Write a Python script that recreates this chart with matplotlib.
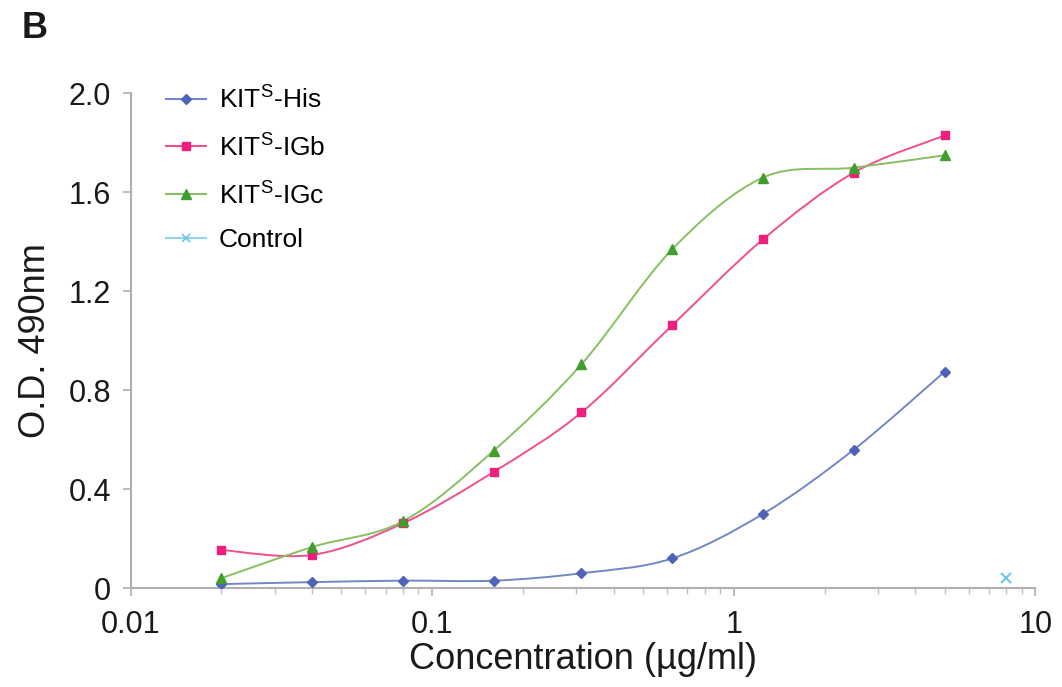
import numpy as np
import matplotlib.pyplot as plt
from matplotlib.path import Path
from matplotlib.patches import PathPatch
from matplotlib.lines import Line2D
from matplotlib.ticker import FixedLocator, LogLocator, NullFormatter

plt.rcParams['font.family'] = ['Liberation Sans', 'DejaVu Sans']

# dilution series (ug/ml)
conc = [0.02, 0.04, 0.08, 0.16, 0.3125, 0.625, 1.25, 2.5, 5.0]
his = [0.016, 0.024, 0.03, 0.03, 0.06, 0.12, 0.30, 0.56, 0.875]
igb = [0.154, 0.134, 0.262, 0.47, 0.71, 1.063, 1.41, 1.68, 1.83]
igc = [0.04, 0.166, 0.27, 0.556, 0.905, 1.37, 1.66, 1.70, 1.75]
ctrl_conc = [8.0]
ctrl = [0.04]

labels = ['KIT$^\\mathregular{S}$-His', 'KIT$^\\mathregular{S}$-IGb',
          'KIT$^\\mathregular{S}$-IGc', 'Control']


def smooth_path(xs, ys):
    # Excel-style smoothed line: cubic bezier through points, built in log-x space
    lx = np.log10(xs)
    ys = np.asarray(ys, float)
    n = len(lx)
    verts = [(lx[0], ys[0])]
    codes = [Path.MOVETO]
    for i in range(n - 1):
        p0 = (lx[max(i - 1, 0)], ys[max(i - 1, 0)])
        p1 = (lx[i], ys[i])
        p2 = (lx[i + 1], ys[i + 1])
        p3 = (lx[min(i + 2, n - 1)], ys[min(i + 2, n - 1)])
        c1 = (p1[0] + (p2[0] - p0[0]) / 6, p1[1] + (p2[1] - p0[1]) / 6)
        c2 = (p2[0] - (p3[0] - p1[0]) / 6, p2[1] - (p3[1] - p1[1]) / 6)
        verts += [c1, c2, p2]
        codes += [Path.CURVE4] * 3
    verts = [(10 ** vx, vy) for vx, vy in verts]
    return Path(verts, codes)


fig = plt.figure(figsize=(10.62, 6.87), dpi=100)
ax = fig.add_axes([0.123, 0.144, 0.852, 0.72])
ax.set_xscale('log')
ax.set_xlim(0.01, 10)
ax.set_ylim(0, 2.0)

series = [
    (conc, his, '#7286c8', '#4f63b8', 'D', 5),
    (conc, igb, '#f0508a', '#ee1f7c', 's', 6),
    (conc, igc, '#86c060', '#3f9e2c', '^', 7),
]
for xs, ys, lc, mc, mk, ms in series:
    ax.add_patch(PathPatch(smooth_path(xs, ys), facecolor='none',
                           edgecolor=lc, lw=1.4, zorder=2))
    ax.plot(xs, ys, ls='none', marker=mk, ms=ms, color=mc, zorder=3)
ax.plot(ctrl_conc, ctrl, ls='none', marker='x', ms=7, mew=1.5,
        color='#6fc6ea', zorder=3)

for s in ['top', 'right']:
    ax.spines[s].set_visible(False)
for s in ['left', 'bottom']:
    ax.spines[s].set_color('#b0b0b0')
    ax.spines[s].set_linewidth(1.5)

ax.yaxis.set_major_locator(FixedLocator([0, 0.4, 0.8, 1.2, 1.6, 2.0]))
ax.set_yticklabels(['0', '0.4', '0.8', '1.2', '1.6', '2.0'])
ax.xaxis.set_major_locator(FixedLocator([0.01, 0.1, 1, 10]))
ax.set_xticklabels(['0.01', '0.1', '1', '10'])
ax.xaxis.set_minor_locator(LogLocator(base=10, subs=np.arange(2, 10)))
ax.xaxis.set_minor_formatter(NullFormatter())
ax.tick_params(axis='both', which='major', labelsize=22, color='#b0b0b0',
               length=6, width=1.2, direction='out', labelcolor='#1a1a1a')
ax.tick_params(axis='x', which='major', pad=10)
ax.tick_params(axis='y', which='major', pad=8)
ax.tick_params(axis='x', which='minor', length=4, width=1, color='#c0c0c0')

ax.set_xlabel('Concentration (\u00b5g/ml)', fontsize=26, color='#1a1a1a', labelpad=1)
ax.set_ylabel('O.D. 490nm', fontsize=26, color='#1a1a1a', labelpad=11)

handles = [
    Line2D([], [], color='#7286c8', marker='D', ms=5, mfc='#4f63b8', mec='#4f63b8'),
    Line2D([], [], color='#f0508a', marker='s', ms=6, mfc='#ee1f7c', mec='#ee1f7c'),
    Line2D([], [], color='#86c060', marker='^', ms=7, mfc='#3f9e2c', mec='#3f9e2c'),
    Line2D([], [], color='#8fd4f0', marker='x', ms=6, mew=1.2, mec='#6fc6ea'),
]
ax.legend(handles, labels, loc='upper left', bbox_to_anchor=(0.013, 1.065),
          frameon=False, fontsize=19, handlelength=1.5, handletextpad=0.5,
          labelspacing=0.75)

fig.text(0.02, 0.945, 'B', fontsize=26, fontweight='bold', color='#1a1a1a')

fig.savefig('out.png', dpi=100, facecolor='white')
